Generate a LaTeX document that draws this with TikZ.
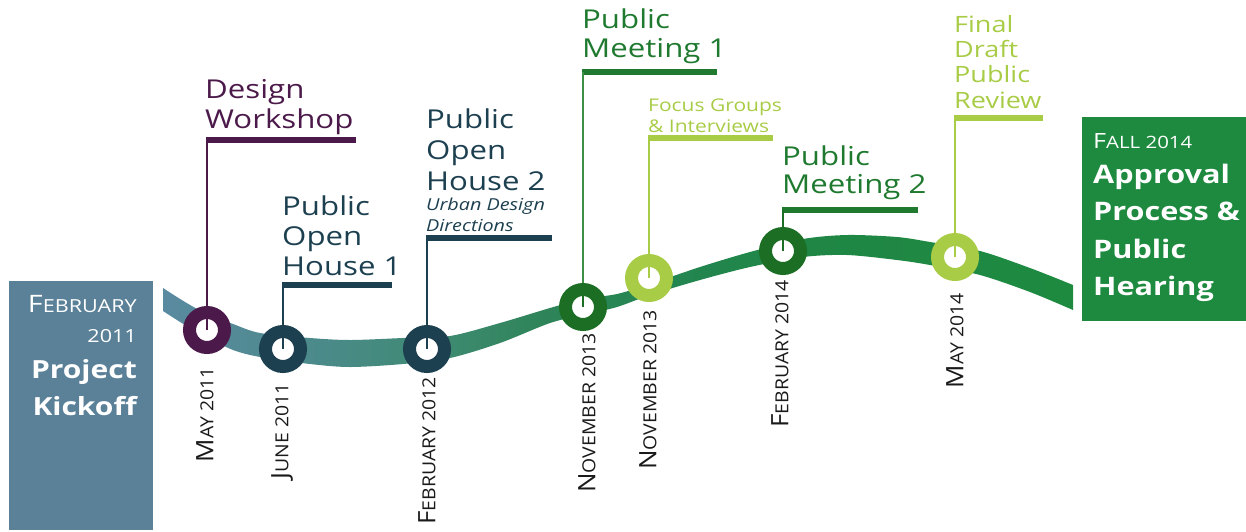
\documentclass[tikz,border=0pt]{standalone}
\usepackage{fontspec}
\setmainfont{Open Sans}[FakeStretch=1.2]
\newfontfamily\datefont{Open Sans}[FakeStretch=1.08]

\definecolor{plum}{HTML}{4B1A4A}
\definecolor{slate}{HTML}{1D4050}
\definecolor{dkgreen}{HTML}{1C6E24}
\definecolor{txgreen}{HTML}{1F7A30}
\definecolor{midgreen}{HTML}{3C8F45}
\definecolor{ltgreen}{HTML}{A8CC46}
\definecolor{kickblue}{HTML}{5B8199}
\definecolor{finalgreen}{HTML}{1E8A3F}
\definecolor{datecol}{HTML}{1A1A1A}
\definecolor{ribA}{HTML}{5A8AA0}
\definecolor{ribB}{HTML}{4C8A8C}
\definecolor{ribC}{HTML}{3D8A70}
\definecolor{ribD}{HTML}{2E8458}
\definecolor{ribE}{HTML}{248552}
\definecolor{ribF}{HTML}{1F8645}
\definecolor{ribG}{HTML}{1E8A40}

% ribbon colour runs from steel teal on the left to green on the right
\pgfdeclarehorizontalshading{ribbonshade}{100bp}{color(0bp)=(ribA); color(25bp)=(ribA);
  color(33bp)=(ribB); color(40.8bp)=(ribC); color(46bp)=(ribD); color(52bp)=(ribE);
  color(60bp)=(ribF); color(75bp)=(ribG); color(100bp)=(ribG)}

% small-caps look: big initial, smaller rest
\newcommand\initcap[4]{{\fontsize{#3}{#3}\selectfont #1}{\fontsize{#4}{#4}\selectfont #2}}

\begin{document}
\begin{tikzpicture}[x=1pt,y=-1pt,
  ring/.style={circle, draw=#1, line width=13pt, minimum size=35pt,
    inner sep=0pt, outer sep=6.5pt, fill=white},
  bar/.style={fill=#1, minimum height=6pt, inner sep=0pt, anchor=west},
  lead/.style={draw=#1, line width=2pt},
  evt/.style={anchor=base west, inner sep=0pt, align=left, text=#1,
    font=\fontsize{26}{30}\selectfont},
  datelbl/.style={rotate=90, anchor=east, inner sep=0pt, text=datecol,
    font=\datefont},
  boxline/.style={inner sep=0pt, text=white}]

\useasboundingbox (0,0) rectangle (1246,531);

% the winding ribbon
\shade[shading=ribbonshade]
  plot[smooth, tension=0.5] coordinates {
    (163,288) (185,302) (207,314) (233,324) (260,333) (310,338) (350,340)
    (403,338) (450,336) (500,323) (550,308) (583,299) (617,294) (650,284)
    (700,267) (750,252) (803,239) (847,235) (897,237) (930,242) (980,251)
    (1030,268) (1073,285)}
  -- plot[smooth, tension=0.5] coordinates {
    (1073,310) (1030,292) (980,275) (930,265) (897,260) (847,255) (803,257)
    (750,267) (700,280) (650,295) (617,307) (583,315) (550,323) (500,343)
    (450,358) (403,364) (350,367) (310,364) (260,357) (233,350) (207,337)
    (185,325) (163,311)}
  -- cycle;

% start and end boxes
\node[fill=kickblue, anchor=north west, minimum width=144pt, minimum height=249pt,
  inner sep=0pt] (kick) at (9,281) {};
\node[boxline, anchor=base east] (kick1) at (137,312)
  {\initcap{F}{EBRUARY}{24}{18}};
\node[boxline, anchor=base east, font=\fontsize{18}{18}\selectfont] (kick2) at (137,342) {2011};
\node[boxline, anchor=base east, font=\bfseries\fontsize{25}{25}\selectfont] (kick3) at (137,378) {Project};
\node[boxline, anchor=base east, font=\bfseries\fontsize{25}{25}\selectfont] (kick4) at (137,415) {Kickoff};

\node[fill=finalgreen, anchor=north west, minimum width=164pt, minimum height=204pt,
  inner sep=0pt] (final) at (1082,117) {};
\node[boxline, anchor=base west] (fin1) at (1093,148) {\initcap{F}{ALL 2014}{21}{17}};
\node[boxline, anchor=base west, font=\bfseries\fontsize{25.5}{25}\selectfont] (fin2) at (1093,183) {Approval};
\node[boxline, anchor=base west, font=\bfseries\fontsize{25.5}{25}\selectfont] (fin3) at (1093,220) {Process \&};
\node[boxline, anchor=base west, font=\bfseries\fontsize{25.5}{25}\selectfont] (fin4) at (1093,258) {Public};
\node[boxline, anchor=base west, font=\bfseries\fontsize{25.5}{25}\selectfont] (fin5) at (1093,295) {Hearing};

% milestone rings
\node[ring=plum]    (r1) at (207,330) {};
\node[ring=slate]   (r2) at (283,349) {};
\node[ring=slate]   (r3) at (427,349) {};
\node[ring=dkgreen] (r4) at (583,307) {};
\node[ring=ltgreen] (r5) at (649,278) {};
\node[ring=dkgreen] (r6) at (783,251) {};
\node[ring=ltgreen] (r7) at (955,257) {};

% short marks inside the rings
\foreach \r/\c in {r1/plum, r2/slate, r3/slate, r4/dkgreen, r5/ltgreen, r6/dkgreen, r7/ltgreen}
  \draw[lead=\c] (\r.center) -- ++(0,-11);

% label bars
\node[bar=plum,    minimum width=150pt] (b1) at (206,140) {};
\node[bar=slate,   minimum width=110pt] (b2) at (282,285) {};
\node[bar=slate,   minimum width=126pt] (b3) at (426,238) {};
\node[bar=txgreen, minimum width=135pt] (b4) at (582,72)  {};
\node[bar=ltgreen, minimum width=125pt] (b5) at (648,138) {};
\node[bar=txgreen, minimum width=136pt] (b6) at (782,210) {};
\node[bar=ltgreen, minimum width=89pt]  (b7) at (954,118) {};

% leaders from rings up to bars
\draw[lead=plum]     (r1.north) -- (r1.north |- b1.center);
\draw[lead=slate]    (r2.north) -- (r2.north |- b2.center);
\draw[lead=slate]    (r3.north) -- (r3.north |- b3.center);
\draw[lead=midgreen] (r4.north) -- (r4.north |- b4.center);
\draw[lead=ltgreen]  (r5.north) -- (r5.north |- b5.center);
\draw[lead=dkgreen]  (r6.north) -- (r6.north |- b6.center);
\draw[lead=ltgreen]  (r7.north) -- (r7.north |- b7.center);

% milestone titles (anchored at the baseline of the last line)
\node[evt=plum]    (t1) at (205,128) {Design\\Workshop};
\node[evt=slate]   (t2) at (282,275) {Public\\Open\\House 1};
\node[evt=slate, font=\fontsize{26}{31}\selectfont] (t3) at (426,190) {Public\\Open\\House 2};
\node[evt=slate, font=\itshape\fontsize{16.5}{21}\selectfont] (t3b) at (426,231) {Urban Design\\Directions};
\node[evt=txgreen, font=\fontsize{26}{29}\selectfont] (t4) at (582,57) {Public\\Meeting 1};
\node[evt=ltgreen, font=\fontsize{17.5}{21}\selectfont] (t5) at (648,132) {Focus Groups\\\& Interviews};
\node[evt=txgreen, font=\fontsize{26}{28}\selectfont] (t6) at (782,193) {Public\\Meeting 2};
\node[evt=ltgreen, font=\fontsize{22.5}{25.3}\selectfont] (t7) at (954,108) {Final\\Draft\\Public\\Review};

% dates
\node[datelbl] (d1) at (205,367) {\initcap{M}{AY 2011}{24}{18}};
\node[datelbl] (d2) at (282,383) {\initcap{J}{UNE 2011}{24}{18}};
\node[datelbl] (d3) at (427,377) {\initcap{F}{EBRUARY 2012}{24}{18}};
\node[datelbl] (d4) at (587,333) {\initcap{N}{OVEMBER 2013}{24}{18}};
\node[datelbl] (d5) at (648,310) {\initcap{N}{OVEMBER 2013}{24}{18}};
\node[datelbl] (d6) at (780,280) {\initcap{F}{EBRUARY 2014}{24}{18}};
\node[datelbl] (d7) at (955,293) {\initcap{M}{AY 2014}{24}{18}};
\end{tikzpicture}
\end{document}
